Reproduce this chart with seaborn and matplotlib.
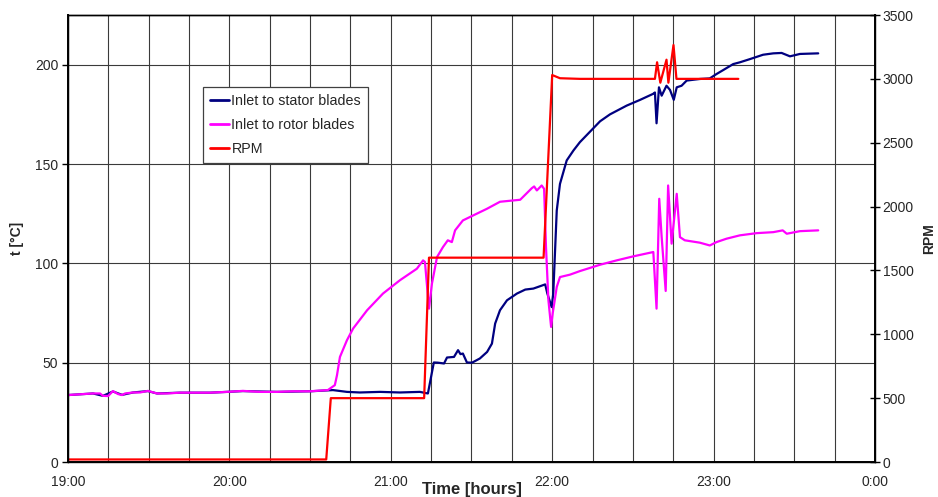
"""
Turbine warm-up: blade inlet temperatures and rotor speed
"""
import numpy as np
import pandas as pd
import matplotlib
matplotlib.use("Agg")
import matplotlib.pyplot as plt
import matplotlib.ticker as ticker
import seaborn as sns


# minutes after 19:00 / temperature [C]
stator_min = [0.0, 9.3, 13.0, 16.7, 20.1, 24.2, 29.7, 33.1, 41.6, 52.8, 59.1, 65.0,
              77.7, 90.0, 98.5, 103.7, 108.5, 116.0, 123.4, 130.8, 133.8, 136.0,
              137.5, 139.8, 140.9, 143.5, 145.0, 145.9, 146.8, 148.3, 150.2, 153.1,
              155.8, 157.6, 158.8, 160.6, 163.2, 166.9, 170.0, 173.0, 177.4, 178.2,
              179.8, 180.4, 181.7, 182.9, 185.4, 187.9, 190.3, 197.8, 201.5, 207.7,
              212.7, 217.5, 218.2, 218.8, 219.7, 220.7, 222.5, 223.8, 225.2, 226.3,
              228.1, 230.0, 234.9, 238.6, 241.1, 243.6, 247.3, 249.8, 253.5, 258.4,
              262.2, 265.3, 268.4, 272.1, 278.9]
stator_t = [33.7, 34.5, 33.3, 35.5, 33.8, 35.0, 35.7, 34.5, 34.9, 34.9, 35.3, 35.7,
            35.3, 35.6, 36.2, 35.3, 35.0, 35.3, 35.0, 35.3, 34.5, 50.1,
            50.0, 49.6, 52.6, 52.9, 56.3, 54.3, 54.6, 50.1, 50.0, 52.1,
            55.4, 59.6, 69.7, 76.4, 81.4, 84.8, 86.8, 87.3, 89.4, 84.8,
            78.0, 84.8, 126.6, 140.0, 151.8, 156.8, 161.0, 171.5, 175.0, 179.4,
            182.3, 185.3, 186.0, 170.5, 188.6, 184.4, 189.4, 187.3, 182.3, 188.6,
            189.4, 192.0, 192.8, 193.1, 195.3, 197.3, 200.3, 201.2, 202.8, 205.0,
            205.7, 205.9, 204.2, 205.4, 205.7]

rotor_min = [0.0, 9.3, 11.9, 13.0, 14.9, 16.7, 18.6, 20.1, 21.2, 24.2, 26.8, 29.7,
             33.1, 36.8, 41.6, 46.5, 52.8, 59.1, 65.0, 71.4, 77.7, 83.6, 90.0, 96.6,
             99.2, 100.0, 101.1, 103.7, 106.0, 111.2, 117.1, 123.4, 129.7, 132.0,
             132.7, 134.2, 135.3, 137.2, 139.4, 141.2, 142.7, 143.9, 146.8, 150.6,
             155.8, 160.6, 168.1, 172.4, 173.3, 174.3, 176.1, 177.0, 177.7, 178.6,
             179.6, 180.2, 181.7, 182.9, 186.6, 190.3, 197.8, 204.0, 210.1, 217.6,
             218.8, 219.8, 220.7, 222.2, 223.1, 224.4, 226.3, 227.5, 229.3, 234.9,
             238.6, 241.1, 244.8, 249.8, 256.0, 262.2, 265.7, 267.2, 272.1, 278.9]
rotor_t = [33.7, 34.5, 34.5, 33.3, 33.2, 35.7, 34.2, 33.7, 34.5, 35.0, 35.0, 35.8,
           34.5, 34.5, 34.9, 34.9, 34.9, 35.3, 35.8, 35.3, 35.3, 35.6, 35.6, 36.2,
           38.7, 43.7, 52.9, 61.3, 67.2, 76.4, 84.8, 91.5, 97.3, 101.5,
           100.7, 77.2, 89.8, 103.2, 108.2, 111.6, 110.7, 116.6, 121.6, 124.1,
           127.5, 131.0, 132.0, 137.8, 138.7, 136.7, 139.2, 137.5, 108.2, 81.4,
           68.0, 74.9, 88.1, 93.1, 94.3, 96.1, 99.3, 101.5, 103.5, 105.7,
           77.2, 132.5, 113.2, 86.1, 139.2, 109.9, 135.0, 113.2, 111.6, 110.4,
           109.0, 110.7, 112.4, 114.1, 115.2, 115.7, 116.6, 114.9, 116.2, 116.6]

rpm_min = [0.0, 96.0, 97.7, 132.4, 134.2, 176.8, 180.0, 182.9, 190.3, 218.2,
           219.0, 220.2, 222.5, 223.2, 225.1, 226.2, 249.2]
rpm_val = [20, 20, 500, 500, 1600, 1600, 3030, 3005, 3000, 3000,
           3130, 2970, 3150, 2970, 3265, 3000, 3000]

hour_ticks = [19, 20, 21, 22, 23, 24]
hour_labels = ["19:00", "20:00", "21:00", "22:00", "23:00", "0:00"]


def to_frame(minutes, values):
    return pd.DataFrame({"hour": 19 + np.array(minutes) / 60.0, "value": values})


sns.set_style("white")
plt.rcParams["font.family"] = ["Liberation Sans", "DejaVu Sans"]
plt.rcParams["font.size"] = 10

fig = plt.figure(figsize=(9.38, 4.97), dpi=100)
ax = fig.add_axes([0.0725, 0.0704, 0.8603, 0.8994])
ax2 = ax.twinx()

sns.lineplot(data=to_frame(stator_min, stator_t), x="hour", y="value", ax=ax,
             color="#000080", lw=1.6, sort=False, estimator=None,
             label="Inlet to stator blades", legend=False)
sns.lineplot(data=to_frame(rotor_min, rotor_t), x="hour", y="value", ax=ax,
             color="#FF00FF", lw=1.6, sort=False, estimator=None,
             label="Inlet to rotor blades", legend=False)
sns.lineplot(data=to_frame(rpm_min, rpm_val), x="hour", y="value", ax=ax2,
             color="#FF0000", lw=1.6, sort=False, estimator=None,
             label="RPM", legend=False)

# axes limits / ticks
ax.set_xlim(19, 24)
ax.set_ylim(0, 225)
ax2.set_ylim(0, 3500)
ax.set_xticks(hour_ticks)
ax.set_xticklabels(hour_labels)
ax.xaxis.set_minor_locator(ticker.MultipleLocator(0.25))
ax.set_yticks([0, 50, 100, 150, 200])
ax2.set_yticks(np.arange(0, 3501, 500))

ax.grid(True, which="both", axis="x", color="#3a3a3a", lw=0.8)
ax.grid(True, which="major", axis="y", color="#3a3a3a", lw=0.8)
ax2.grid(False)

ax.tick_params(axis="x", which="major", direction="out", length=4, width=1,
               color="black", labelsize=10, pad=5)
ax.tick_params(axis="x", which="minor", length=0)
ax.tick_params(axis="y", direction="out", length=4, width=1, color="black",
               labelsize=10, pad=3)
ax2.tick_params(axis="y", direction="inout", length=7, width=1, color="black",
                labelsize=10, pad=2)

for a in (ax, ax2):
    for s in a.spines.values():
        s.set_color("black")
        s.set_linewidth(1.0)
ax.spines["left"].set_linewidth(1.4)
ax.spines["bottom"].set_linewidth(1.4)
ax2.spines["right"].set_linewidth(1.4)

ax.set_xlabel("Time [hours]", fontsize=12, fontweight="bold", labelpad=-5)
ax.set_ylabel("t [\u00b0C]", fontsize=10, fontweight="bold", labelpad=8)
ax2.set_ylabel("RPM", fontsize=10, fontweight="bold", labelpad=6)

# combined legend
h1, l1 = ax.get_legend_handles_labels()
h2, l2 = ax2.get_legend_handles_labels()
leg = ax2.legend(h1 + h2, l1 + l2, loc="upper left", bbox_to_anchor=(0.167, 0.839),
                 bbox_transform=ax.transAxes, borderaxespad=0, frameon=True,
                 fancybox=False, framealpha=1, edgecolor="#404040", fontsize=10.3,
                 handlelength=1.3, handletextpad=0.2, labelspacing=0.7,
                 borderpad=0.5)
leg.get_frame().set_linewidth(0.9)
for line in leg.get_lines():
    line.set_linewidth(2)

fig.savefig("out.png", dpi=100, facecolor="white")
